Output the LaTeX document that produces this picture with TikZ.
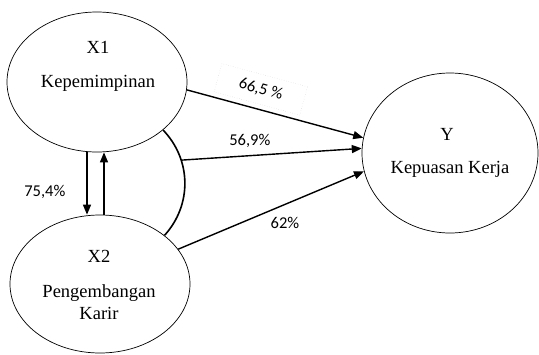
\documentclass[tikz,border=0pt]{standalone}
\usepackage{fontspec}
\setmainfont{Liberation Serif}
\newfontfamily\pctfont{Carlito}
\usetikzlibrary{arrows.meta,shapes.geometric}

\begin{document}
\begin{tikzpicture}[x=1pt,y=-1pt,
	latent/.style={ellipse, draw, line width=0.7pt, inner sep=0pt},
	caption/.style={anchor=base, font=\fontsize{18.5}{22}\selectfont},
	effect/.style={line width=1.4pt, -{Triangle[length=10pt,width=8pt]}},
	pct/.style={font=\pctfont\fontsize{16.5}{20}\selectfont, inner sep=0pt}]
		{
			\useasboundingbox (0,0) rectangle (539,354);

			\node[latent, minimum width=180pt, minimum height=140pt] (x1) at (97,82) {};
			\node[latent, minimum width=180pt, minimum height=138pt] (x2) at (100,284) {};
			\node[latent, minimum width=176pt, minimum height=160pt] (y) at (450,153) {};

			\node[caption] (x1id) at (98,53) {X1};
			\node[caption] (x1name) at (98,87) {Kepemimpinan};
			\node[caption] (x2id) at (99,262) {X2};
			\node[caption] (x2name) at (99,297) {Pengembangan};
			\node[caption] (x2name2) at (99,319) {Karir};
			\node[caption] (yid) at (447,140) {Y};
			\node[caption] (yname) at (450,173) {Kepuasan Kerja};

			% joint effect
			\draw[line width=1.6pt] (x1.-36) to[bend left=43] coordinate[pos=0.3] (joint) (x2.37);

			\draw[effect] (x1.-5) -- (y.170)
				node[pct, draw=black!20, line width=0.4pt, dotted, sloped, above=5pt, pos=0.39,
					inner xsep=22pt, inner ysep=8pt] (l1) {66,5 \%};
			\draw[effect] (joint) -- (y.177) node[pct, above=7pt, pos=0.38] (l2) {56,9\%};
			\draw[effect] (x2.24) -- (y.192) node[pct, below=12pt, pos=0.575] (l3) {62\%};

			\draw[effect] ([xshift=-10pt]x1.south) -- ([xshift=-10pt]x1.south |- x2.north)
				node[pct, left=21pt, pos=0.63] (l4) {75,4\%};
			\draw[effect] ([xshift=7pt]x1.south |- x2.north) -- ([xshift=7pt]x1.south);
		}
\end{tikzpicture}
\end{document}
